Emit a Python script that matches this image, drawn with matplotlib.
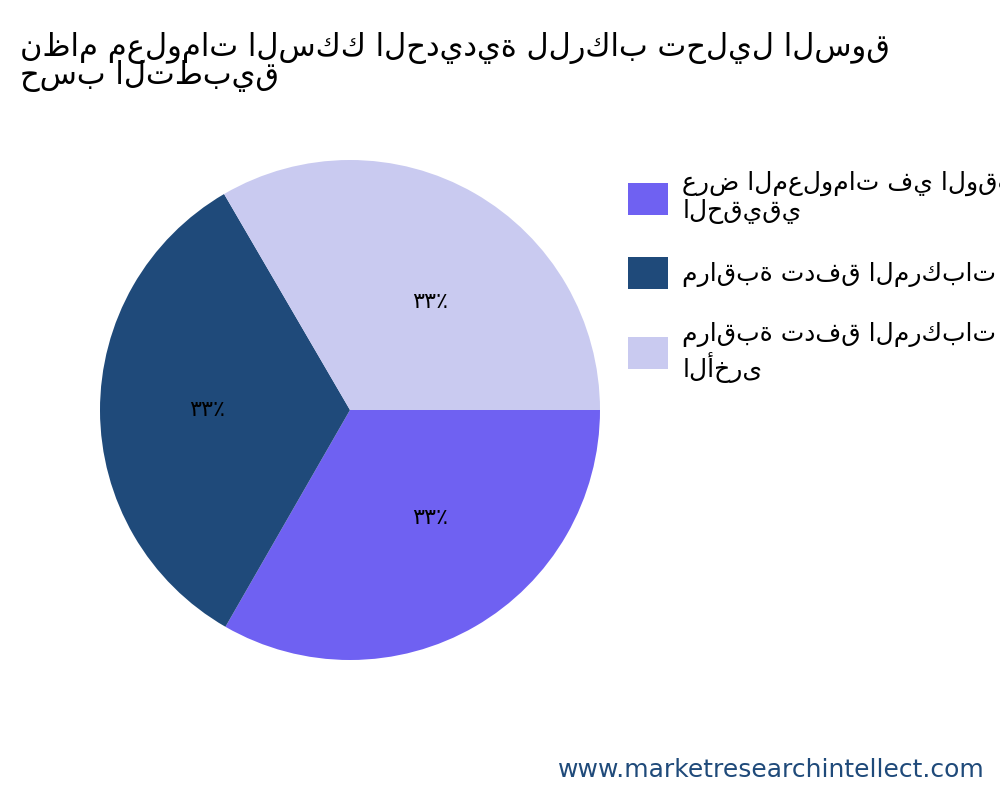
import matplotlib.pyplot as plt

plt.rcParams['font.family'] = ['DejaVu Sans', 'Noto Sans']

title = "نظام معلومات السكك الحديدية للركاب تحليل السوق\nحسب التطبيق"
labels = ["عرض المعلومات في الوقت\nالحقيقي", "مراقبة تدفق المركبات", "مراقبة تدفق المركبات\nالأخرى"]
values = [33.3, 33.3, 33.4]
pct_labels = ["٣٣٪", "٣٣٪", "٣٣٪"]
colors = ["#6f61f2", "#1f4a7a", "#c9caf0"]
footer = "www.marketresearchintellect.com"

fig = plt.figure(figsize=(10, 8), dpi=100)
ax = fig.add_axes([0.1, 0.175, 0.5, 0.625])
wedges, texts = ax.pie(values, colors=colors, startangle=0, counterclock=False,
                       labels=pct_labels, labeldistance=0.5,
                       textprops={'fontsize': 16})
ax.set_xlim(-1, 1)
ax.set_ylim(-1, 1)
ax.set_aspect('equal')

fig.text(0.02, 0.96, title, fontsize=22, ha='left', va='top', linespacing=0.85)
fig.legend(wedges, labels, loc='upper left', bbox_to_anchor=(0.605, 0.815),
           frameon=False, fontsize=18, handlelength=1.6, handleheight=1.6,
           labelspacing=1.3, handletextpad=0.6)
fig.text(0.985, 0.022, footer, fontsize=18, color="#1f4a7a", ha='right', va='bottom')

fig.savefig("out.png", dpi=100)
